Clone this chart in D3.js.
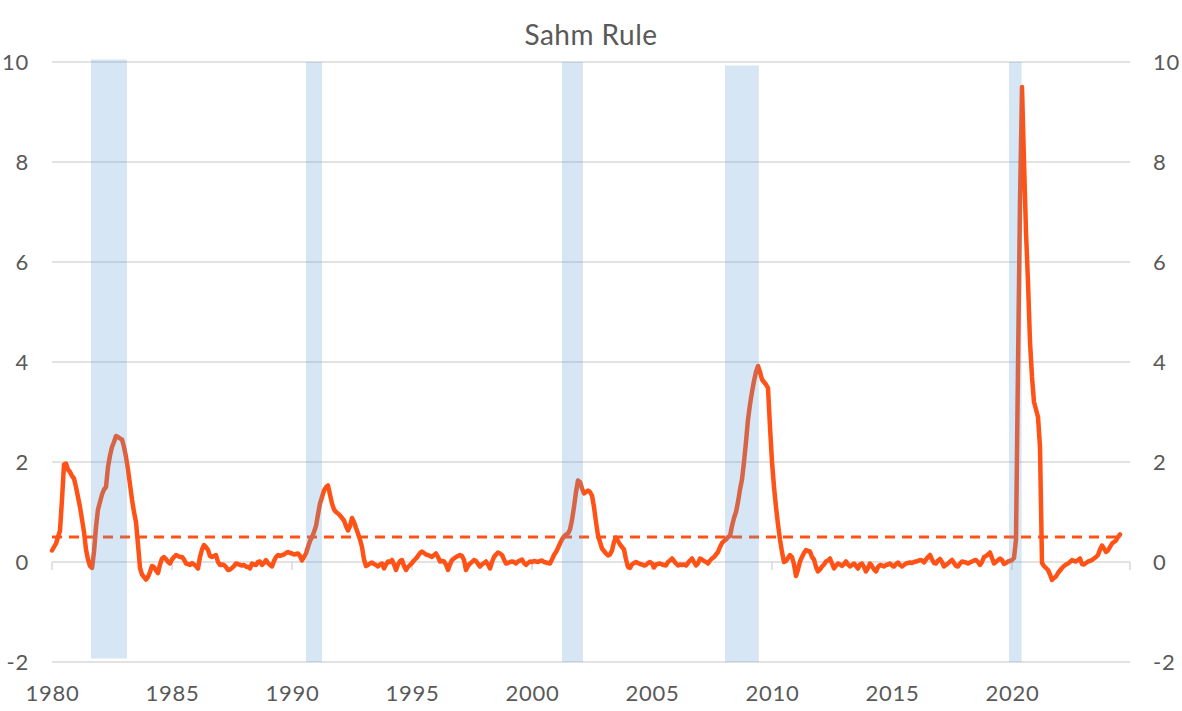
<!DOCTYPE html>
<html>
<head>
<meta charset="utf-8">
<script src="https://cdn.jsdelivr.net/npm/d3@7"></script>
<style>
  body { margin: 0; background: #fff; }
  svg text { font-family: Lato, "Open Sans", sans-serif; fill: #595959; }
</style>
</head>
<body>
<script>
// monthly Sahm rule readings, Jan 1980 onward (one row per year)
var sahm1980s = [
  0.23, 0.3, 0.37, 0.5, 0.63, 1.25, 1.95, 1.97, 1.85, 1.8, 1.72, 1.67,
  1.5, 1.3, 1.1, 0.85, 0.6, 0.25, 0.05, -0.08, -0.12, 0.2, 0.7, 1.05,
  1.2, 1.35, 1.45, 1.5, 1.9, 2.13, 2.3, 2.4, 2.52, 2.5, 2.47, 2.45,
  2.3, 2.1, 1.85, 1.55, 1.25, 1.0, 0.8, 0.35, -0.12, -0.25, -0.3, -0.35,
  -0.3, -0.2, -0.08, -0.1, -0.17, -0.22, -0.05, 0.07, 0.1, 0.06, 0.0, -0.03,
  0.05, 0.1, 0.14, 0.12, 0.1, 0.1, 0.05, -0.03, -0.04, -0.06, -0.02, -0.05,
  -0.08, -0.13, 0.1, 0.25, 0.34, 0.3, 0.24, 0.12, 0.1, 0.12, 0.14, 0.0,
  -0.06, -0.05, -0.06, -0.1, -0.16, -0.15, -0.12, -0.08, -0.03, -0.04, -0.06, -0.07,
  -0.06, -0.09, -0.1, -0.13, -0.03, -0.05, -0.06, 0.0, 0.01, -0.06, -0.02, 0.04,
  -0.02, -0.06, -0.09, 0.02, 0.1, 0.14, 0.12, 0.14, 0.15, 0.18, 0.2, 0.18
];
var sahm1990s = [
  0.17, 0.15, 0.16, 0.17, 0.12, 0.03, 0.1, 0.17, 0.3, 0.42, 0.5, 0.6,
  0.72, 0.95, 1.17, 1.3, 1.43, 1.5, 1.53, 1.35, 1.17, 1.05, 1.0, 0.97,
  0.93, 0.88, 0.83, 0.72, 0.63, 0.72, 0.88, 0.8, 0.68, 0.57, 0.45, 0.3,
  0.05, -0.08, -0.06, -0.03, -0.01, -0.04, -0.06, -0.09, -0.05, -0.03, -0.13, -0.05,
  0.01, 0.0, 0.04, -0.05, -0.16, -0.05, 0.02, 0.04, -0.08, -0.16, -0.1, -0.06,
  -0.02, 0.03, 0.07, 0.12, 0.18, 0.21, 0.18, 0.15, 0.14, 0.12, 0.1, 0.14,
  0.17, 0.1, 0.01, 0.02, 0.01, -0.05, -0.16, -0.05, 0.04, 0.07, 0.1, 0.12,
  0.14, 0.12, 0.04, -0.16, -0.08, -0.03, 0.0, 0.04, 0.02, -0.04, -0.09, -0.05,
  -0.02, 0.01, -0.05, -0.13, 0.0, 0.1, 0.15, 0.19, 0.17, 0.14, 0.05, -0.03,
  -0.02, 0.0, 0.01, 0.0, -0.03, 0.01, 0.03, 0.05, -0.02, -0.06, -0.02, 0.01
];
var sahm2000s = [
  0.0, 0.02, 0.01, 0.0, 0.02, 0.03, 0.0, -0.01, -0.02, -0.03, 0.05, 0.14,
  0.2, 0.28, 0.37, 0.45, 0.51, 0.55, 0.57, 0.65, 0.84, 1.1, 1.4, 1.63,
  1.6, 1.47, 1.37, 1.4, 1.43, 1.4, 1.33, 1.1, 0.8, 0.53, 0.4, 0.27,
  0.22, 0.17, 0.13, 0.15, 0.23, 0.4, 0.49, 0.42, 0.35, 0.3, 0.25, 0.05,
  -0.1, -0.12, -0.05, -0.02, 0.0, -0.02, -0.04, -0.05, -0.07, -0.06, -0.02, 0.0,
  -0.03, -0.11, -0.05, -0.04, -0.03, -0.05, -0.06, -0.07, 0.0, 0.03, 0.07, 0.02,
  -0.03, -0.07, -0.05, -0.06, -0.05, -0.07, -0.02, 0.03, 0.07, 0.0, -0.07, -0.03,
  0.07, 0.05, 0.02, 0.0, -0.03, 0.03, 0.07, 0.1, 0.15, 0.2, 0.3, 0.38,
  0.42, 0.45, 0.5, 0.52, 0.72, 0.88, 1.0, 1.2, 1.45, 1.65, 2.0, 2.4,
  2.85, 3.15, 3.4, 3.62, 3.8, 3.92, 3.8, 3.65, 3.6, 3.55, 3.48, 2.7
];
var sahm2010s = [
  2.0, 1.5, 1.1, 0.75, 0.45, 0.2, 0.0, 0.02, 0.08, 0.14, 0.1, -0.05,
  -0.28, -0.15, 0.01, 0.1, 0.18, 0.24, 0.22, 0.21, 0.1, 0.05, -0.1, -0.19,
  -0.15, -0.09, -0.05, 0.01, 0.03, 0.07, -0.03, -0.13, -0.07, -0.03, -0.05, -0.08,
  -0.04, 0.01, -0.05, -0.09, -0.06, -0.03, -0.08, -0.13, -0.05, -0.03, -0.1, -0.19,
  -0.12, -0.03, -0.08, -0.15, -0.19, -0.1, -0.06, -0.07, -0.09, -0.06, -0.05, -0.03,
  -0.07, -0.09, -0.04, -0.01, -0.06, -0.09, -0.06, -0.03, -0.02, -0.01, -0.02, 0.0,
  0.01, 0.02, 0.04, 0.03, -0.01, 0.05, 0.1, 0.14, 0.05, -0.02, -0.03, 0.03,
  0.06, 0.0, -0.09, -0.06, -0.03, 0.01, 0.04, -0.02, -0.08, -0.09, -0.03, 0.01,
  0.0, -0.01, -0.03, -0.01, 0.01, 0.03, 0.04, 0.0, -0.06, 0.0, 0.1, 0.12,
  0.15, 0.19, 0.08, -0.03, 0.0, 0.04, 0.07, 0.04, -0.04, -0.02, 0.01, 0.02
];
var sahm2020s = [
  0.04, 0.08, 0.45, 3.9, 7.2, 9.5, 8.0, 6.6, 5.6, 4.4, 3.7, 3.2,
  3.05, 2.9, 2.3, -0.02, -0.08, -0.12, -0.16, -0.25, -0.36, -0.32, -0.29, -0.22,
  -0.17, -0.12, -0.08, -0.05, -0.03, 0.0, 0.04, 0.02, 0.01, 0.04, 0.07, -0.04,
  -0.05, -0.02, 0.01, 0.02, 0.04, 0.07, 0.1, 0.14, 0.25, 0.33, 0.27, 0.2,
  0.23, 0.3, 0.37, 0.4, 0.43, 0.5, 0.55
];
var startYear = 1980;
var threshold = 0.5;

// recession shading (decimal years) and its vertical reach
var recStart = [1981.625, 1990.583, 2001.25, 2008.042, 2019.875];
var recEnd = [1983.125, 1991.25, 2002.125, 2009.45, 2020.4];
var recTop = [10.05, 10, 10, 9.93, 10];
var recBottom = [-1.93, -2, -2, -2, -2];

var yTicks = [-2, 0, 2, 4, 6, 8, 10];
var xTicks = [1980, 1985, 1990, 1995, 2000, 2005, 2010, 2015, 2020];

var w = 1182, h = 711,
    plotLeft = 52, plotRight = 1130, plotTop = 62, plotBottom = 662;

var values = sahm1980s.concat(sahm1990s, sahm2000s, sahm2010s, sahm2020s);
var data = values.map(function(v, i) {
  return { t: startYear + i / 12, v: v };
});

var x = d3.scaleLinear().domain([1980, 1980 + 539 / 12]).range([plotLeft, plotRight]);
var y = d3.scaleLinear().domain([-2, 10]).range([plotBottom, plotTop]);

var svg = d3.select('body').append('svg')
  .attr('width', w)
  .attr('height', h);

// title
svg.append('text')
  .attr('x', (plotLeft + plotRight) / 2)
  .attr('y', 45)
  .attr('text-anchor', 'middle')
  .style('font-size', '28px')
  .style('letter-spacing', '0.5px')
  .text('Sahm Rule');

// gridlines
svg.append('g')
  .selectAll('line')
  .data(yTicks)
  .enter()
  .append('line')
  .attr('x1', plotLeft)
  .attr('x2', plotRight)
  .attr('y1', function(d) { return y(d); })
  .attr('y2', function(d) { return y(d); })
  .attr('stroke', '#d9d9d9')
  .attr('stroke-width', 1.5);

// small tick marks hanging off the zero line
svg.append('g')
  .selectAll('line')
  .data(xTicks.concat([x.domain()[1]]))
  .enter()
  .append('line')
  .attr('x1', function(d) { return x(d); })
  .attr('x2', function(d) { return x(d); })
  .attr('y1', y(0))
  .attr('y2', y(0) + 8)
  .attr('stroke', '#d9d9d9')
  .attr('stroke-width', 1.5);

// axes (plain hyphen for negatives, like the original)
var plainNum = function(d) { return String(d); };
var yLeft = svg.append('g')
  .attr('transform', 'translate(' + plotLeft + ',0)')
  .call(d3.axisLeft(y).tickValues(yTicks).tickFormat(plainNum).tickSize(0).tickPadding(23));
var yRight = svg.append('g')
  .attr('transform', 'translate(' + plotRight + ',0)')
  .call(d3.axisRight(y).tickValues(yTicks).tickFormat(plainNum).tickSize(0).tickPadding(23));
var xAxis = svg.append('g')
  .attr('transform', 'translate(0,' + (plotBottom + 23) + ')')
  .call(d3.axisBottom(x).tickValues(xTicks).tickFormat(plainNum).tickSize(0).tickPadding(0));

[yLeft, yRight, xAxis].forEach(function(g) {
  g.select('.domain').remove();
  g.selectAll('text')
    .style('font-size', '22px')
    .style('letter-spacing', '0.8px')
    .style('font-family', 'Lato, "Open Sans", sans-serif')
    .attr('fill', '#595959');
});
xAxis.selectAll('text').attr('dy', '0.71em');

// series
var line = d3.line()
  .x(function(d) { return x(d.t); })
  .y(function(d) { return y(d.v); });

svg.append('path')
  .datum(data)
  .attr('d', line)
  .attr('fill', 'none')
  .attr('stroke', '#ff5216')
  .attr('stroke-width', 4.5)
  .attr('stroke-linejoin', 'round')
  .attr('stroke-linecap', 'round');

svg.append('path')
  .datum(data.map(function(d) { return { t: d.t, v: threshold }; }))
  .attr('d', line)
  .attr('fill', 'none')
  .attr('stroke', '#ff5216')
  .attr('stroke-width', 3)
  .attr('stroke-dasharray', '10,7');

// recessions drawn over the line, semi-transparent
svg.append('g')
  .selectAll('rect')
  .data(recStart)
  .enter()
  .append('rect')
  .attr('x', function(d) { return x(d); })
  .attr('width', function(d, i) { return x(recEnd[i]) - x(d); })
  .attr('y', function(d, i) { return y(recTop[i]); })
  .attr('height', function(d, i) { return y(recBottom[i]) - y(recTop[i]); })
  .attr('fill', '#5b9bd5')
  .attr('fill-opacity', 0.25);
</script>
</body>
</html>
